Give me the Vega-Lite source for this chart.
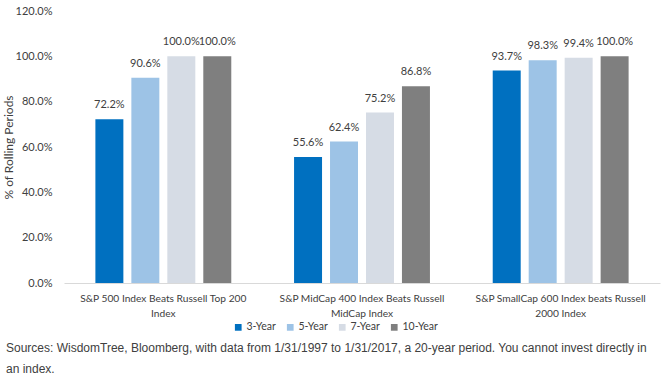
{
  "$schema": "https://vega.github.io/schema/vega-lite/v6.json",
  "autosize": "none",
  "width": 596,
  "height": 272,
  "padding": {"left": 64, "top": 11, "right": 4, "bottom": 104},
  "background": "white",
  "data": {
    "values": [
      {"group": "S&P 500 Index Beats Russell Top 200|Index", "period": "3-Year", "value": 0.722},
      {"group": "S&P 500 Index Beats Russell Top 200|Index", "period": "5-Year", "value": 0.906},
      {"group": "S&P 500 Index Beats Russell Top 200|Index", "period": "7-Year", "value": 1.0},
      {"group": "S&P 500 Index Beats Russell Top 200|Index", "period": "10-Year", "value": 1.0},
      {"group": "S&P MidCap 400 Index Beats Russell|MidCap Index", "period": "3-Year", "value": 0.556},
      {"group": "S&P MidCap 400 Index Beats Russell|MidCap Index", "period": "5-Year", "value": 0.624},
      {"group": "S&P MidCap 400 Index Beats Russell|MidCap Index", "period": "7-Year", "value": 0.752},
      {"group": "S&P MidCap 400 Index Beats Russell|MidCap Index", "period": "10-Year", "value": 0.868},
      {"group": "S&P SmallCap 600 Index beats Russell|2000 Index", "period": "3-Year", "value": 0.937},
      {"group": "S&P SmallCap 600 Index beats Russell|2000 Index", "period": "5-Year", "value": 0.983},
      {"group": "S&P SmallCap 600 Index beats Russell|2000 Index", "period": "7-Year", "value": 0.994},
      {"group": "S&P SmallCap 600 Index beats Russell|2000 Index", "period": "10-Year", "value": 1.0}
    ]
  },
  "title": {
    "text": ["Sources: WisdomTree, Bloomberg, with data from 1/31/1997 to 1/31/2017, a 20-year period. You cannot invest directly in", "an index."],
    "orient": "bottom",
    "anchor": "start",
    "frame": "bounds",
    "dx": 4,
    "offset": 10,
    "font": "Liberation Sans",
    "fontSize": 12,
    "fontWeight": "normal",
    "color": "#404040",
    "lineHeight": 21
  },
  "encoding": {
    "x": {
      "field": "group",
      "type": "nominal",
      "sort": null,
      "scale": {"paddingInner": 0.316, "paddingOuter": 0.158},
      "axis": {
        "title": null,
        "labelAngle": 0,
        "labelExpr": "split(datum.label, '|')",
        "labelFont": "Lato",
        "labelFontSize": 10.2,
        "labelColor": "#404040",
        "labelPadding": 10,
        "labelLineHeight": 15,
        "labelLimit": 400,
        "ticks": false,
        "domainColor": "#d9d9d9",
        "domainWidth": 1
      }
    },
    "xOffset": {
      "field": "period",
      "type": "nominal",
      "sort": ["3-Year", "5-Year", "7-Year", "10-Year"],
      "scale": {"paddingInner": 0.222, "paddingOuter": 0}
    },
    "y": {
      "field": "value",
      "type": "quantitative",
      "scale": {"domain": [0, 1.2], "nice": false},
      "axis": {
        "title": "% of Rolling Periods",
        "titleFont": "Lato",
        "titleFontSize": 12,
        "titleFontWeight": "normal",
        "titleColor": "#404040",
        "titleX": -49,
        "format": ".1%",
        "values": [0, 0.2, 0.4, 0.6, 0.8, 1.0, 1.2],
        "labelFont": "Lato",
        "labelFontSize": 11,
        "labelColor": "#404040",
        "labelPadding": 12,
        "ticks": false,
        "domain": false,
        "grid": false
      }
    }
  },
  "layer": [
    {
      "mark": {"type": "bar"},
      "encoding": {
        "color": {
          "field": "period",
          "type": "nominal",
          "sort": ["3-Year", "5-Year", "7-Year", "10-Year"],
          "scale": {
            "domain": ["3-Year", "5-Year", "7-Year", "10-Year"],
            "range": ["#0070C0", "#9DC3E6", "#D6DCE5", "#7F7F7F"]
          },
          "legend": {
            "title": null,
            "orient": "none",
            "direction": "horizontal",
            "legendX": 169,
            "legendY": 311,
            "symbolType": "square",
            "symbolSize": 45,
            "symbolStrokeWidth": 0,
            "labelFont": "Lato",
            "labelFontSize": 10.5,
            "labelColor": "#404040",
            "labelOffset": 3,
            "columnPadding": 9
          }
        }
      }
    },
    {
      "mark": {"type": "text", "dy": -14, "font": "Lato", "fontSize": 11, "color": "#404040"},
      "encoding": {
        "text": {"field": "value", "type": "quantitative", "format": ".1%"}
      }
    }
  ],
  "config": {"view": {"stroke": null}}
}
